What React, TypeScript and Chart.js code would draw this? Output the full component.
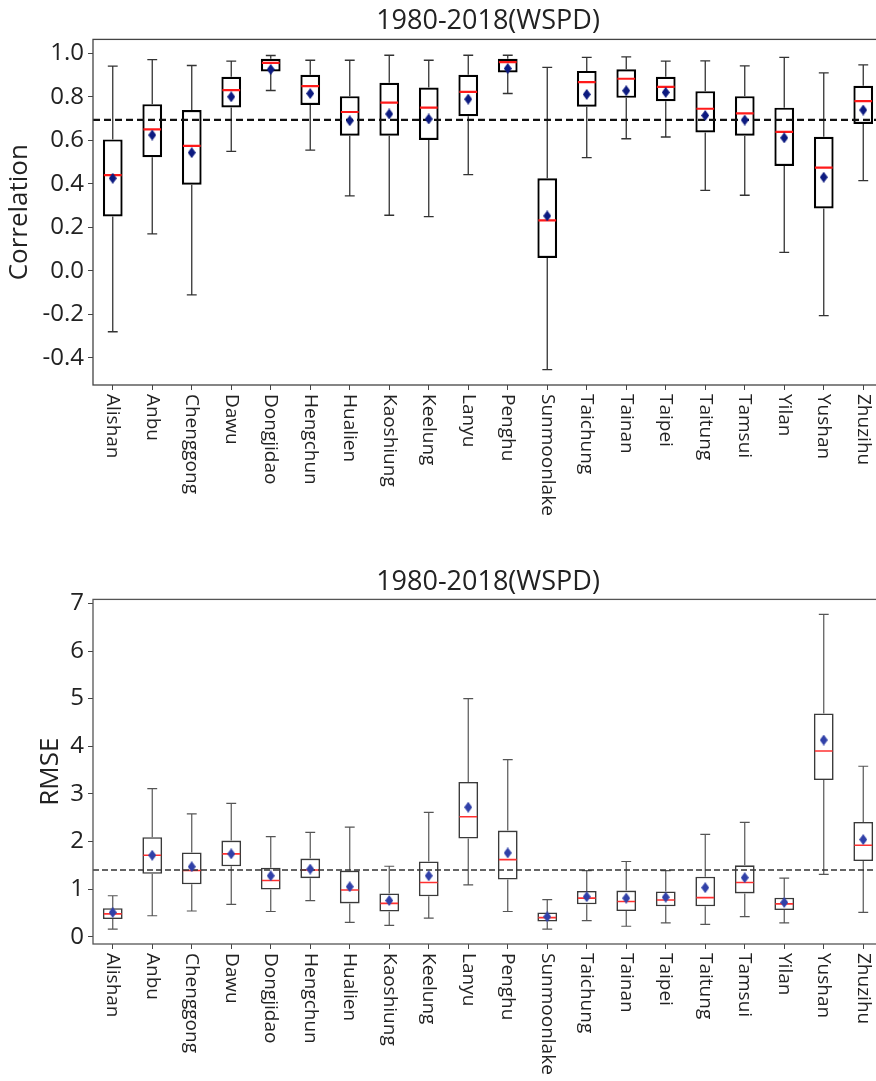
import React, { useEffect, useRef } from "react";
import { Chart, registerables } from "chart.js";
Chart.register(...registerables);

const STATIONS = ["Alishan","Anbu","Chenggong","Dawu","Dongjidao","Hengchun","Hualien","Kaoshiung","Keelung","Lanyu","Penghu","Sunmoonlake","Taichung","Tainan","Taipei","Taitung","Tamsui","Yilan","Yushan","Zhuzihu"];
const TITLE = "1980-2018(WSPD)";

// Correlation panel
const CORR_MIN = [-0.28, 0.17, -0.11, 0.55, 0.83, 0.556, 0.345, 0.256, 0.25, 0.443, 0.816, -0.454, 0.521, 0.608, 0.616, 0.37, 0.348, 0.085, -0.206, 0.415];
const CORR_Q1 = [0.25, 0.523, 0.396, 0.752, 0.917, 0.763, 0.622, 0.622, 0.602, 0.712, 0.913, 0.059, 0.755, 0.796, 0.781, 0.637, 0.622, 0.483, 0.287, 0.676];
const CORR_MED = [0.441, 0.651, 0.575, 0.832, 0.957, 0.85, 0.731, 0.774, 0.751, 0.824, 0.96, 0.232, 0.868, 0.884, 0.847, 0.746, 0.725, 0.64, 0.475, 0.781];
const CORR_Q3 = [0.605, 0.767, 0.74, 0.893, 0.976, 0.902, 0.804, 0.865, 0.844, 0.902, 0.976, 0.426, 0.92, 0.928, 0.893, 0.827, 0.804, 0.751, 0.617, 0.852];
const CORR_MAX = [0.942, 0.972, 0.945, 0.965, 0.991, 0.969, 0.969, 0.992, 0.969, 0.992, 0.992, 0.936, 0.982, 0.985, 0.965, 0.966, 0.943, 0.982, 0.911, 0.948];
const CORR_MEAN = [0.426, 0.625, 0.544, 0.801, 0.927, 0.816, 0.691, 0.722, 0.699, 0.79, 0.931, 0.253, 0.812, 0.829, 0.821, 0.715, 0.694, 0.612, 0.431, 0.74];
const CORR_REF = 0.695;
const CORR_TICKS = [-0.4, -0.2, 0.0, 0.2, 0.4, 0.6, 0.8, 1.0];
const CORR_RANGE = [-0.525, 1.065];

// RMSE panel
const RMSE_MIN = [0.16, 0.44, 0.54, 0.68, 0.53, 0.76, 0.3, 0.24, 0.39, 1.09, 0.53, 0.16, 0.34, 0.22, 0.29, 0.26, 0.42, 0.29, 1.31, 0.51];
const RMSE_Q1 = [0.37, 1.32, 1.1, 1.48, 0.99, 1.23, 0.7, 0.53, 0.85, 2.06, 1.2, 0.32, 0.68, 0.54, 0.64, 0.64, 0.91, 0.56, 3.29, 1.59];
const RMSE_MED = [0.48, 1.71, 1.39, 1.74, 1.18, 1.4, 0.98, 0.7, 1.14, 2.52, 1.62, 0.4, 0.81, 0.74, 0.77, 0.82, 1.14, 0.69, 3.9, 1.92];
const RMSE_Q3 = [0.6, 2.09, 1.77, 2.02, 1.45, 1.64, 1.39, 0.91, 1.58, 3.25, 2.23, 0.51, 0.96, 0.97, 0.95, 1.26, 1.5, 0.82, 4.69, 2.41];
const RMSE_MAX = [0.86, 3.11, 2.58, 2.8, 2.1, 2.19, 2.3, 1.48, 2.61, 5.0, 3.72, 0.78, 1.39, 1.58, 1.39, 2.15, 2.4, 1.23, 6.77, 3.58];
const RMSE_MEAN = [0.51, 1.71, 1.47, 1.74, 1.28, 1.42, 1.05, 0.76, 1.28, 2.72, 1.76, 0.42, 0.84, 0.81, 0.83, 1.03, 1.24, 0.72, 4.13, 2.04];
const RMSE_REF = 1.4;
const RMSE_TICKS = [0, 1, 2, 3, 4, 5, 6, 7];
const RMSE_RANGE = [-0.153, 7.084];

const FONT = "'Open Sans', 'DejaVu Sans', sans-serif";

type Style = {
  box: string; boxW: number; whisker: string; whiskerW: number;
  median: string; medianW: number; mean: string; ref: string; refW: number; dash: number[];
  frame: string;
};

function makeDiamond(color: string) {
  const c = document.createElement("canvas");
  c.width = 8; c.height = 11;
  const g = c.getContext("2d")!;
  g.fillStyle = color;
  g.beginPath();
  g.moveTo(4, 0); g.lineTo(8, 5.5); g.lineTo(4, 11); g.lineTo(0, 5.5); g.closePath();
  g.fill();
  return c;
}

function BoxChart(props: {
  height: number; yLabel: string; yTitlePad: number; titlePad: { top: number; bottom: number };
  min: number[]; q1: number[]; med: number[]; q3: number[]; max: number[]; mean: number[];
  ref: number; ticks: number[]; range: number[]; decimals: number; xHeight: number; style: Style;
}) {
  const ref = useRef<HTMLCanvasElement>(null);
  useEffect(() => {
    const p = props;
    const st = p.style;
    const extras = {
      id: "boxExtras",
      afterDatasetDraw(chart: any, args: any) {
        if (args.index !== 0) return;
        const { ctx, chartArea } = chart;
        const xs = chart.scales.x, ys = chart.scales.y;
        const step = xs.getPixelForValue(1) - xs.getPixelForValue(0);
        ctx.save();
        ctx.beginPath();
        ctx.rect(chartArea.left, chartArea.top, chartArea.right - chartArea.left, chartArea.bottom - chartArea.top);
        ctx.clip();
        STATIONS.forEach((_, i) => {
          const cx = xs.getPixelForValue(i);
          const capH = step * 0.125;
          const boxH = step * 0.25;
          ctx.strokeStyle = st.whisker;
          ctx.lineWidth = st.whiskerW;
          ctx.beginPath();
          ctx.moveTo(cx, ys.getPixelForValue(p.q3[i]));
          ctx.lineTo(cx, ys.getPixelForValue(p.max[i]));
          ctx.moveTo(cx, ys.getPixelForValue(p.q1[i]));
          ctx.lineTo(cx, ys.getPixelForValue(p.min[i]));
          ctx.moveTo(cx - capH, ys.getPixelForValue(p.max[i]));
          ctx.lineTo(cx + capH, ys.getPixelForValue(p.max[i]));
          ctx.moveTo(cx - capH, ys.getPixelForValue(p.min[i]));
          ctx.lineTo(cx + capH, ys.getPixelForValue(p.min[i]));
          ctx.stroke();
          ctx.strokeStyle = st.median;
          ctx.lineWidth = st.medianW;
          ctx.beginPath();
          const my = ys.getPixelForValue(p.med[i]);
          ctx.moveTo(cx - boxH + 1, my);
          ctx.lineTo(cx + boxH - 1, my);
          ctx.stroke();
        });
        const ry = ys.getPixelForValue(p.ref);
        ctx.strokeStyle = st.ref;
        ctx.lineWidth = st.refW;
        ctx.setLineDash(st.dash);
        ctx.beginPath();
        ctx.moveTo(chartArea.left, ry);
        ctx.lineTo(chartArea.right, ry);
        ctx.stroke();
        ctx.restore();
      },
      afterDraw(chart: any) {
        const { ctx, chartArea } = chart;
        const xs = chart.scales.x;
        ctx.save();
        ctx.strokeStyle = st.frame;
        ctx.lineWidth = 1.3;
        ctx.strokeRect(chartArea.left, chartArea.top, chartArea.right - chartArea.left, chartArea.bottom - chartArea.top);
        ctx.fillStyle = "#222";
        ctx.font = `19px ${FONT}`;
        ctx.textAlign = "left";
        ctx.textBaseline = "middle";
        STATIONS.forEach((s, i) => {
          const cx = xs.getPixelForValue(i);
          ctx.save();
          ctx.translate(cx, chartArea.bottom + 9);
          ctx.rotate(Math.PI / 2);
          ctx.fillText(s, 0, 0);
          ctx.restore();
        });
        ctx.restore();
      },
    };
    const chart = new Chart(ref.current!, {
      type: "bar",
      data: {
        labels: STATIONS,
        datasets: [
          {
            type: "bar",
            data: p.q1.map((v, i) => [v, p.q3[i]]) as any,
            backgroundColor: "rgba(255,255,255,0.6)",
            borderColor: st.box,
            borderWidth: st.boxW,
            borderSkipped: false,
            barPercentage: 0.5,
            categoryPercentage: 1.0,
            order: 1,
          } as any,
          {
            type: "line",
            data: p.mean,
            showLine: false,
            pointStyle: makeDiamond(st.mean) as any,
            pointRadius: 5,
            order: 0,
          } as any,
        ],
      },
      options: {
        responsive: false,
        animation: false,
        events: [],
        layout: { padding: { left: 0, right: 17, top: 0, bottom: 0 } },
        plugins: {
          legend: { display: false },
          tooltip: { enabled: false },
          title: {
            display: true,
            text: TITLE,
            fullSize: false,
            color: "#222",
            font: { family: FONT, size: 27, weight: "normal" },
            padding: p.titlePad,
          } as any,
        },
        scales: {
          x: {
            type: "category",
            offset: true,
            border: { display: false },
            grid: { display: true, drawOnChartArea: false, drawTicks: true, tickLength: 5, tickColor: "#444", offset: false },
            ticks: { display: false },
            afterFit: (scale: any) => { scale.height = p.xHeight; },
          },
          y: {
            type: "linear",
            min: p.range[0],
            max: p.range[1],
            border: { display: false },
            grid: { drawOnChartArea: false, drawTicks: true, tickLength: 5, tickColor: "#444" },
            afterBuildTicks: (scale: any) => { scale.ticks = p.ticks.map((v) => ({ value: v })); },
            ticks: {
              padding: 4,
              color: "#222",
              font: { family: FONT, size: 24 },
              callback: (v: any) => Number(v).toFixed(p.decimals),
            },
            title: {
              display: true,
              text: p.yLabel,
              color: "#222",
              font: { family: FONT, size: 26 },
              padding: { top: p.yTitlePad, bottom: 0 },
            },
            afterFit: (scale: any) => { scale.width = 93; },
          },
        },
      },
      plugins: [extras],
    });
    return () => chart.destroy();
  }, []);
  return <canvas ref={ref} width={900} height={props.height} style={{ display: "block", width: 900, height: props.height }} />;
}

export default function App() {
  const top: Style = {
    box: "#000", boxW: 2.2, whisker: "#333", whiskerW: 1.3, median: "#ff1a1a", medianW: 2.2,
    mean: "#0c1a80", ref: "#111", refW: 2.2, dash: [7, 4], frame: "#444",
  };
  const bottom: Style = {
    box: "#3a3a3a", boxW: 1.6, whisker: "#555", whiskerW: 1.2, median: "#ff3030", medianW: 1.6,
    mean: "#3040a8", ref: "#333", refW: 1.4, dash: [6, 3], frame: "#555",
  };
  return (
    <div style={{ position: "absolute", left: 0, top: 0, width: 876, height: 1081, overflow: "hidden", background: "#fff" }}>
      <BoxChart height={545} yLabel="Correlation" yTitlePad={4} titlePad={{ top: 5, bottom: 2 }}
        min={CORR_MIN} q1={CORR_Q1} med={CORR_MED} q3={CORR_Q3} max={CORR_MAX} mean={CORR_MEAN}
        ref={CORR_REF} ticks={CORR_TICKS} range={CORR_RANGE} decimals={1} xHeight={160} style={top} />
      <BoxChart height={536} yLabel="RMSE" yTitlePad={35} titlePad={{ top: 21, bottom: 1 }}
        min={RMSE_MIN} q1={RMSE_Q1} med={RMSE_MED} q3={RMSE_Q3} max={RMSE_MAX} mean={RMSE_MEAN}
        ref={RMSE_REF} ticks={RMSE_TICKS} range={RMSE_RANGE} decimals={0} xHeight={137} style={bottom} />
    </div>
  );
}
